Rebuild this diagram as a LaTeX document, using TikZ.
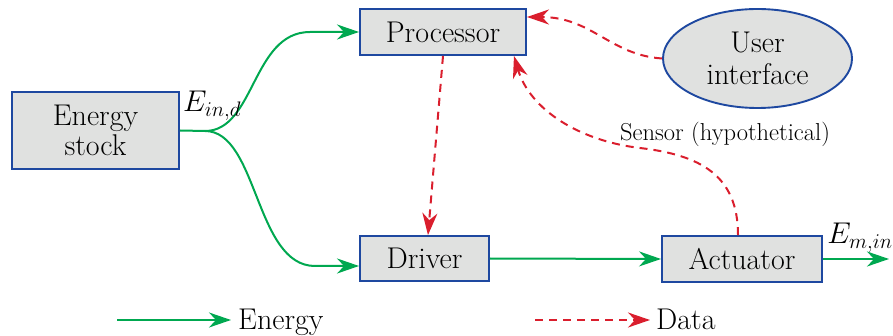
\RequirePackage{fix-cm}
\documentclass[tikz,border=0pt]{standalone}
\usetikzlibrary{arrows.meta,shapes.geometric}
\definecolor{boxfill}{RGB}{224,225,224}
\definecolor{boxline}{RGB}{30,72,160}
\definecolor{egreen}{RGB}{0,168,80}
\definecolor{dred}{RGB}{218,30,45}
\begin{document}
\begin{tikzpicture}[x=1pt,y=-1pt,
  every node/.style={font=\fontsize{30}{30}\selectfont},
  block/.style={draw=boxline, fill=boxfill, line width=1.9pt, inner sep=0pt, align=center},
  tip/.style={-{Stealth[length=22pt,width=15pt,inset=7pt]}},
  energy/.style={draw=egreen, line width=2pt, tip},
  data/.style={draw=dred, line width=2pt, dash pattern=on 8pt off 6pt, tip},
  lbl/.style={inner sep=0pt}]
\useasboundingbox (0,0) rectangle (893,336);

% blocks
\node[block, minimum width=167pt, minimum height=77pt] (stock) at (95.5,130.5) {Energy\\stock};
\node[block, minimum width=166pt, minimum height=46pt] (proc) at (443,32) {Processor};
\node[block, ellipse, minimum width=189pt, minimum height=99pt,
      font=\fontsize{30}{32}\selectfont] (ui) at (757.5,58.5) {User\\interface};
\node[block, minimum width=129pt, minimum height=45pt] (drv) at (424.5,258.5) {Driver};
\node[block, minimum width=160pt, minimum height=46pt] (act) at (742,259) {Actuator};

% energy flow
\coordinate (split) at (205,131);
\draw[energy] (stock.east) -- (split) .. controls (255,131) and (252,32) .. (310,32) -- (proc.west);
\draw[energy] (split) .. controls (258,131) and (255,266) .. (315,266) -- ([yshift=-7.5pt]drv.west);
\draw[energy] (drv.east) -- (act.west);
\coordinate (out) at (889,259);
\draw[energy] (act.east) -- (out);
\node[lbl] (ein) at (212,106) {$E_{in,d}$};
\node[lbl] (eout) at (860,238) {$E_{m,in}$};

% data flow
\draw[data] (proc.south) -- ([xshift=3.5pt]drv.north);
\draw[data] (ui.west) .. controls (610,55) and (592,17) .. ([yshift=15pt]proc.east);
\draw[data] ([xshift=-4pt]act.north) .. controls (738,175) and (700,155) .. (640,148)
  .. controls (580,141) and (530,110) .. ([xshift=-13pt]proc.south east);
\node[lbl, font=\fontsize{24.5}{26}\selectfont] (sensor) at (725,134) {Sensor (hypothetical)};

% legend
\coordinate (le1) at (117,320);
\coordinate (le2) at (231,320);
\draw[energy] (le1) -- (le2);
\node[lbl, anchor=base west] (lenergy) at (238,329) {Energy};
\coordinate (ld1) at (535,320);
\coordinate (ld2) at (650,320);
\draw[data] (ld1) -- (ld2);
\node[lbl, anchor=base west] (ldata) at (656,329) {Data};
\end{tikzpicture}
\end{document}
